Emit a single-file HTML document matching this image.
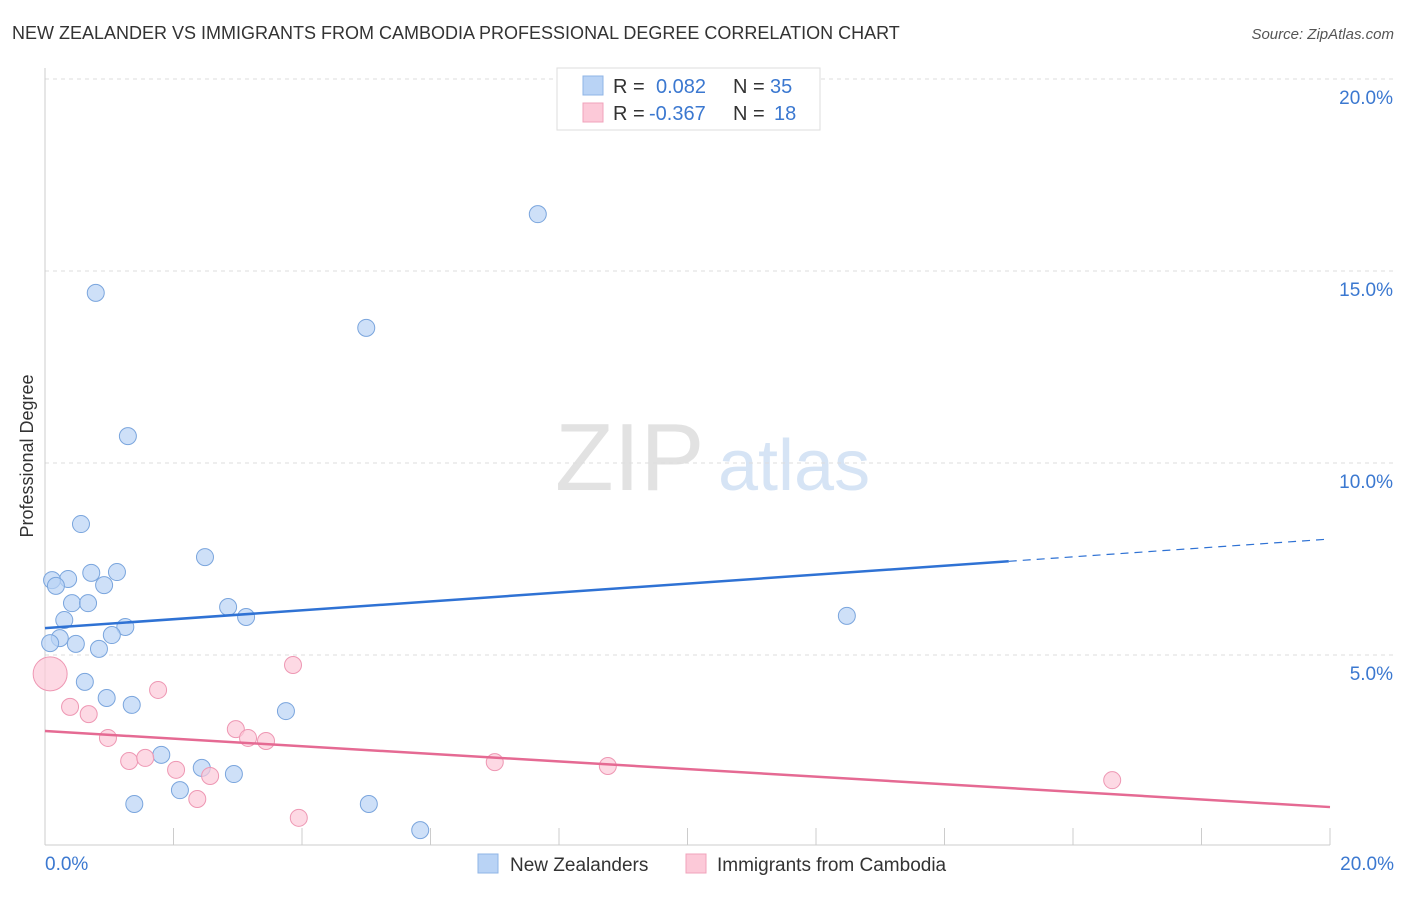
<!DOCTYPE html>
<html><head><meta charset="utf-8"><style>
body{margin:0;background:#fff;font-family:"Liberation Sans",sans-serif;}
svg text{font-family:"Liberation Sans",sans-serif;}
</style></head><body>
<svg id="chart" width="1406" height="892" xmlns="http://www.w3.org/2000/svg">
<text x="12" y="39" font-size="18" fill="#333">NEW ZEALANDER VS IMMIGRANTS FROM CAMBODIA PROFESSIONAL DEGREE CORRELATION CHART</text>
<text x="1394" y="39" font-size="15" fill="#555" text-anchor="end" font-style="italic">Source: ZipAtlas.com</text>
<text x="555" y="490" font-size="96" fill="#e2e2e2" font-family="Liberation Serif">ZIP</text>
<text x="718" y="490" font-size="72" fill="#d6e4f5">atlas</text>
<text transform="translate(33,456) rotate(-90)" font-size="18" fill="#333" text-anchor="middle">Professional Degree</text>
<g id="grid"></g><g id="marks"></g>
<g>
<rect x="557" y="68" width="263" height="62" fill="#fff" stroke="#ddd"/>
<rect x="583" y="76" width="20" height="19" fill="#b9d3f5" stroke="#8fb4e6"/>
<rect x="583" y="103" width="20" height="19" fill="#fcc9d8" stroke="#f0a3bb"/>
<text x="613" y="93" font-size="20" fill="#333">R =</text>
<text x="656" y="93" font-size="20" fill="#3b78d0">0.082</text>
<text x="733" y="93" font-size="20" fill="#333">N =</text>
<text x="770" y="93" font-size="20" fill="#3b78d0">35</text>
<text x="613" y="120" font-size="20" fill="#333">R =</text>
<text x="649" y="120" font-size="20" fill="#3b78d0">-0.367</text>
<text x="733" y="120" font-size="20" fill="#333">N =</text>
<text x="774" y="120" font-size="20" fill="#3b78d0">18</text>
</g>
<g>
<rect x="478" y="854" width="20" height="19" fill="#b9d3f5" stroke="#8fb4e6"/>
<text x="510" y="871" font-size="19" fill="#333">New Zealanders</text>
<rect x="686" y="854" width="20" height="19" fill="#fcc9d8" stroke="#f0a3bb"/>
<text x="717" y="871" font-size="19" fill="#333">Immigrants from Cambodia</text>
</g>
</svg>
<script>
const yTicks=[5,10,15,20];
const yTickLabels=["5.0%","10.0%","15.0%","20.0%"];
const xTickLabels=["0.0%","20.0%"];
const blueX=[7.67,0.79,5.00,1.29,0.56,2.49,0.72,1.12,0.36,0.11,0.17,0.92,0.42,0.67,2.85,3.13,12.48,0.30,1.25,1.04,0.23,0.08,0.48,0.84,0.62,0.96,1.35,3.75,1.81,2.44,2.94,2.10,1.39,5.04,5.84];
const blueY=[16.48,14.43,13.52,10.70,8.41,7.55,7.14,7.16,6.98,6.95,6.80,6.82,6.35,6.35,6.25,5.99,6.02,5.91,5.73,5.52,5.44,5.31,5.29,5.16,4.30,3.88,3.70,3.54,2.40,2.06,1.90,1.48,1.12,1.12,0.44];
const pinkX=[0.08,0.39,0.68,1.76,3.86,0.98,2.97,3.16,3.44,1.31,1.56,2.04,2.57,2.37,3.95,7.00,8.76,16.61];
const pinkY=[4.51,3.65,3.46,4.09,4.74,2.84,3.07,2.84,2.76,2.24,2.32,2.01,1.85,1.25,0.76,2.21,2.11,1.74];
const blueTrend=[5.70,8.02];
const pinkTrend=[3.02,1.04];
const X=v=>45+v/20*1285, Y=v=>847-v/5*192;
const NS="http://www.w3.org/2000/svg";
const grid=document.getElementById('grid'), marks=document.getElementById('marks');
function mk(tag,a,p){const e=document.createElementNS(NS,tag);for(const k in a)e.setAttribute(k,a[k]);p.appendChild(e);return e;}
yTicks.forEach((t,i)=>{
 const l=mk('line',{x1:45,x2:1393,y1:Y(t),y2:Y(t),stroke:'#ddd','stroke-dasharray':'4,4'},grid);
 
 
 const tx=mk('text',{x:1393,y:Y(t)+25,'font-size':19,fill:'#3b78d0','text-anchor':'end'},grid);
 tx.textContent=yTickLabels[i];
 
 
});
const ax=mk('line',{x1:45,x2:45,y1:68,y2:845,stroke:'#ccc'},grid);


const bx=mk('line',{x1:45,x2:1330,y1:845,y2:845,stroke:'#ccc'},grid);


for(let i=0;i<=10;i++){const t=mk('line',{x1:X(i*2),x2:X(i*2),y1:828,y2:845,stroke:'#ccc'},grid);
 
 }
[[0,'start',45],[20,'end',1394]].forEach((d,i)=>{const t=mk('text',{x:d[2],y:870,'font-size':19,fill:'#3b78d0','text-anchor':d[1]},grid);t.textContent=xTickLabels[i];
 
 });
blueX.forEach((x,i)=>{const c=mk('circle',{cx:X(x),cy:Y(blueY[i]),r:8.5,fill:'#b9d3f5','fill-opacity':0.7,stroke:'#7aa5dd','stroke-width':1},marks);
 
 });
pinkX.forEach((x,i)=>{const c=mk('circle',{cx:X(x),cy:Y(pinkY[i]),r:i===0?17:8.5,fill:'#fcc9d8','fill-opacity':0.7,stroke:'#ee97b3','stroke-width':1},marks);
 
 });
const bAt=x=>blueTrend[0]+(blueTrend[1]-blueTrend[0])*x/20;
const b1=mk('line',{x1:X(0),y1:Y(bAt(0)),x2:X(15),y2:Y(bAt(15)),stroke:'#2f72d4','stroke-width':2.5},marks);


const b2=mk('line',{x1:X(15),y1:Y(bAt(15)),x2:X(20),y2:Y(bAt(20)),stroke:'#2f72d4','stroke-width':1.2,'stroke-dasharray':'8,6'},marks);


const p1=mk('line',{x1:X(0),y1:Y(pinkTrend[0]),x2:X(20),y2:Y(pinkTrend[1]),stroke:'#e56a93','stroke-width':2.5},marks);


</script>
</body></html>
